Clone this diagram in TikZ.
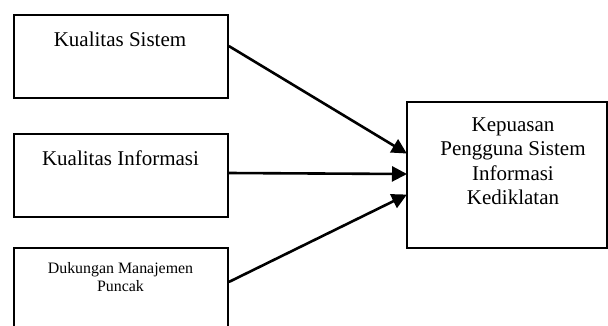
\documentclass[tikz,border=0pt]{standalone}
\usepackage{fontspec}
\setmainfont{Liberation Serif}
\usetikzlibrary{arrows.meta}
\tikzset{
  box/.style={draw, line width=1.8pt, rectangle, anchor=north west, inner sep=0pt},
  lbl/.style={anchor=base, inner sep=0pt, font=\fontsize{21}{24.5}\selectfont, align=center},
  small/.style={anchor=base, inner sep=0pt, font=\fontsize{15.9}{18.5}\selectfont, align=center},
  arr/.style={line width=2.6pt, -{Triangle[length=15pt,width=15pt]}, shorten >=-1pt}
}
\begin{document}
\begin{tikzpicture}[x=1pt,y=-1pt]
\useasboundingbox (0,0) rectangle (608,325);
\clip (0,0) rectangle (608,325);
\node[box, minimum width=214pt, minimum height=83pt] (b1) at (13,14) {};
\node[box, minimum width=214pt, minimum height=83pt] (b2) at (13,133) {};
\node[box, minimum width=214pt, minimum height=110pt] (b3) at (13,247) {};
\node[box, minimum width=200pt, minimum height=146pt] (b4) at (406,101) {};
\node[lbl] (t1) at (120,46) {Kualitas Sistem};
\node[lbl] (t2) at (120.5,165) {Kualitas Informasi};
\node[small] (t3) at (120.5,273) {Dukungan Manajemen};
\node[small] (t3b) at (120.5,291.5) {Puncak};
\node[lbl] (t4a) at (513,131) {Kepuasan};
\node[lbl] (t4b) at (513,155.5) {Pengguna Sistem};
\node[lbl] (t4c) at (513,180) {Informasi};
\node[lbl] (t4d) at (513,204.5) {Kediklatan};
\draw[arr] ([yshift=-32pt]b1.north east) -- ([yshift=-52pt]b4.north west);
\draw[arr] ([yshift=-40pt]b2.north east) -- ([yshift=-73pt]b4.north west);
\draw[arr] ([yshift=-35pt]b3.north east) -- ([yshift=-94pt]b4.north west);
\end{tikzpicture}
\end{document}
